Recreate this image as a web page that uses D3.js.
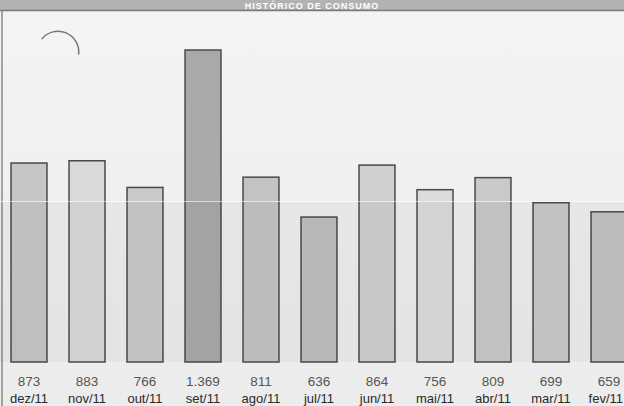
<!DOCTYPE html>
<html>
<head>
<meta charset="utf-8">
<script src="https://cdn.jsdelivr.net/npm/d3@7"></script>
<style>
  html, body { margin: 0; padding: 0; background: #f1f1f1; }
  svg { display: block; }
</style>
</head>
<body>
<div id="chart"></div>
<script>
// data (kWh per month)
const months = ["dez/11", "nov/11", "out/11", "set/11", "ago/11", "jul/11", "jun/11", "mai/11", "abr/11", "mar/11", "fev/11"];
const consumo = [873, 883, 766, 1369, 811, 636, 864, 756, 809, 699, 659];
const valueLabels = ["873", "883", "766", "1.369", "811", "636", "864", "756", "809", "699", "659"];
const barShades = ["#c6c6c6", "#d9d9d9", "#cacaca", "#a9a9a9", "#c3c3c3", "#bfbfbf", "#d0d0d0", "#dcdcdc", "#c9c9c9", "#c9c9c9", "#c2c2c2"];
const title = "HISTÓRICO DE CONSUMO";

const width = 624, height = 406;
const baseY = 362;

const svg = d3.select("#chart")
  .append("svg")
    .attr("width", width)
    .attr("height", height);

// background, slightly uneven like the scan
const grad = svg.append("defs").append("linearGradient")
    .attr("id", "bg").attr("x1", 0).attr("y1", 0).attr("x2", 0).attr("y2", 1);
grad.append("stop").attr("offset", "0%").attr("stop-color", "#f4f4f4");
grad.append("stop").attr("offset", "50%").attr("stop-color", "#f0f0f0");
grad.append("stop").attr("offset", "100%").attr("stop-color", "#ececec");
svg.append("rect").attr("width", width).attr("height", height).attr("fill", "url(#bg)");

// title band
svg.append("rect").attr("x", 0).attr("y", 0).attr("width", width).attr("height", 10).attr("fill", "#b2b2b2");
svg.append("line").attr("x1", 0).attr("x2", width).attr("y1", 10.5).attr("y2", 10.5)
  .attr("stroke", "#7a7a7a").attr("stroke-width", 1.5);
svg.append("text")
  .attr("x", 312).attr("y", 8.5)
  .attr("text-anchor", "middle")
  .attr("font-family", "Liberation Sans, Arial, sans-serif")
  .attr("font-weight", "bold")
  .attr("font-size", 9)
  .attr("letter-spacing", 1)
  .attr("fill", "#ffffff")
  .text(title);

// left frame
svg.append("line").attr("x1", 2).attr("x2", 2).attr("y1", 11).attr("y2", height)
  .attr("stroke", "#8a8a8a").attr("stroke-width", 1.5);

// punch mark artifact
svg.append("path")
  .attr("d", d3.arc()({innerRadius: 20, outerRadius: 21.5, startAngle: -0.9, endAngle: 1.7}))
  .attr("transform", "translate(58,52)")
  .attr("fill", "#777");

const x = d3.scaleBand()
  .domain(months)
  .range([0, 638])
  .paddingInner(0.38)
  .paddingOuter(0.19);

const y = d3.scaleLinear()
  .domain([0, 1369])
  .range([baseY, 50]);

const data = months.map((m, i) => ({month: m, value: consumo[i], label: valueLabels[i], shade: barShades[i]}));

svg.append("g")
  .selectAll("rect")
  .data(data)
  .enter()
  .append("rect")
    .attr("x", d => x(d.month))
    .attr("y", d => y(d.value))
    .attr("width", x.bandwidth())
    .attr("height", d => baseY - y(d.value))
    .attr("fill", d => d.shade)
    .attr("stroke", "#4a4a4a")
    .attr("stroke-width", 1.5);

// scan seam: lower half a touch darker
svg.append("rect").attr("x", 0).attr("y", 202).attr("width", width).attr("height", 160)
  .attr("fill", "#000").attr("opacity", 0.035);
svg.append("line").attr("x1", 0).attr("x2", width).attr("y1", 201.5).attr("y2", 201.5)
  .attr("stroke", "#ffffff").attr("stroke-width", 1).attr("opacity", 0.6);

// keep a centred label inside the picture
function clampInside(sel) {
  sel.each(function() {
    const w = this.getComputedTextLength();
    const cx = +this.getAttribute("x");
    this.setAttribute("x", Math.max(w / 2 + 1, Math.min(cx, width - w / 2 - 1)));
  });
}

// value labels
svg.append("g")
  .selectAll("text")
  .data(data)
  .enter()
  .append("text")
    .attr("x", d => x(d.month) + x.bandwidth() / 2)
    .attr("y", 386)
    .attr("text-anchor", "middle")
    .attr("font-family", "Liberation Sans, Arial, sans-serif")
    .attr("font-size", 13.5)
    .attr("fill", "#555")
    .text(d => d.label)
    .call(clampInside);

// month labels
svg.append("g")
  .selectAll("text")
  .data(data)
  .enter()
  .append("text")
    .attr("x", d => x(d.month) + x.bandwidth() / 2)
    .attr("y", 403)
    .attr("text-anchor", "middle")
    .attr("font-family", "Liberation Sans, Arial, sans-serif")
    .attr("font-size", 13)
    .attr("fill", "#2a2a2a")
    .text(d => d.month)
    .call(clampInside);
</script>
</body>
</html>
